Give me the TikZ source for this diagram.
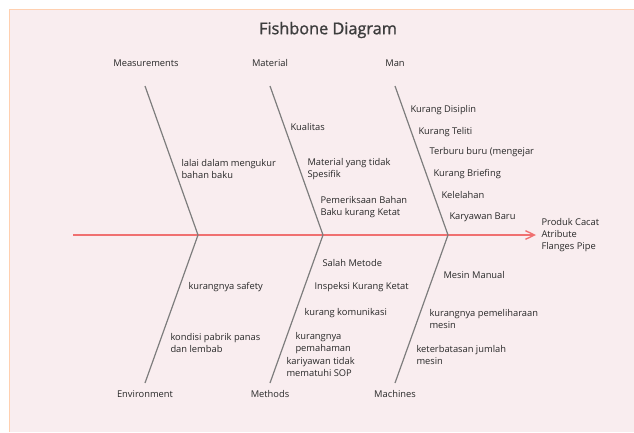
\documentclass[tikz,border=0pt]{standalone}
\usepackage{fontspec}
\setmainfont{Open Sans}
\newfontfamily\titlefont[FakeBold=1.2]{Open Sans}
\usetikzlibrary{arrows.meta}
\definecolor{panelfill}{RGB}{249,237,239}
\definecolor{panelline}{RGB}{255,208,176}
\definecolor{spinered}{RGB}{240,112,112}
\definecolor{bonegray}{RGB}{125,125,125}
\definecolor{txtgray}{RGB}{40,40,40}
\tikzset{every picture/.style={line width=0.75pt}}
\tikzset{
  cause/.style={anchor=west,inner sep=0.75pt,align=left,text=txtgray,
    font=\fontsize{7}{8.6}\selectfont},
  category/.style={inner sep=0.75pt,text=txtgray,font=\fontsize{7}{8.6}\selectfont},
  bone/.style={draw=bonegray,line width=0.9pt},
  spine/.style={draw=spinered,line width=1.4pt,-{Straight Barb[length=6.75pt,width=6.5pt,line width=1pt]}}
}

\begin{document}
\begin{tikzpicture}[x=0.75pt,y=0.75pt,yscale=-1,xscale=1]
\useasboundingbox (0,0) rectangle (634,432);

%Shape: Panel
\fill[panelfill] (9,9) rectangle (634,432);
\draw[panelline] (9,432) -- (9,9) -- (634,9);

% Title Node
\node[text=txtgray!90,inner sep=0.75pt,font=\titlefont\fontsize{12.2}{15}\selectfont] (title) at (328,30) {Fishbone Diagram};

%Spine
\coordinate (tail) at (73,235);
\coordinate (head) at (536,235);
\draw[spine] (tail) -- (head);

%Joints and bone ends
\coordinate (jmeas) at (198,235);
\coordinate (jmat) at (323,235);
\coordinate (jman) at (448,235);
\coordinate (tmeas) at (145,86);
\coordinate (tmat) at (270,86);
\coordinate (tman) at (395,86);
\coordinate (benv) at (145,383);
\coordinate (bmeth) at (270,383);
\coordinate (bmach) at (395,383);

%Bones
\draw[bone] (tmeas) -- (jmeas) -- (benv);
\draw[bone] (tmat) -- (jmat) -- (bmeth);
\draw[bone] (tman) -- (jman) -- (bmach);

% Category Nodes
\node[category] (meas) at (146,63) {Measurements};
\node[category] (mat) at (270,63) {Material};
\node[category] (man) at (395,63) {Man};
\node[category] (env) at (145,394) {Environment};
\node[category] (meth) at (270,394) {Methods};
\node[category] (mach) at (395,394) {Machines};

% Effect Node
\node[cause,font=\fontsize{7}{9.2}\selectfont] (effect) at (540,235) {Produk Cacat\\Atribute\\Flanges Pipe};

% Measurements causes
\node[cause] (ms1) at (180,169) {lalai dalam mengukur\\bahan baku};

% Material causes
\node[cause] (mt1) at (289,127) {Kualitas};
\node[cause] (mt2) at (306,169) {Material yang tidak\\Spesifik};
\node[cause] (mt3) at (319,207) {Pemeriksaan Bahan\\Baku kurang Ketat};

% Man causes
\node[cause] (mn1) at (409,110) {Kurang Disiplin};
\node[cause] (mn2) at (417,132) {Kurang Teliti};
\node[cause] (mn3) at (428,152) {Terburu buru (mengejar};
\node[cause] (mn4) at (432,174) {Kurang Briefing};
\node[cause] (mn5) at (440,195) {Kelelahan};
\node[cause] (mn6) at (448,217) {Karyawan Baru};

% Environment causes
\node[cause] (en1) at (187,287) {kurangnya safety};
\node[cause] (en2) at (169,343) {kondisi pabrik panas\\dan lembab};

% Methods causes
\node[cause] (me1) at (321,263) {Salah Metode};
\node[cause] (me2) at (313,287) {Inspeksi Kurang Ketat};
\node[cause] (me3) at (303,313) {kurang komunikasi};
\node[cause] (me4) at (294,343) {kurangnya\\pemahaman};
\node[cause] (me5) at (285,367) {kariyawan tidak\\mematuhi SOP};

% Machines causes
\node[cause] (mc1) at (442,275) {Mesin Manual};
\node[cause] (mc2) at (428,319) {kurangnya pemeliharaan\\mesin};
\node[cause] (mc3) at (415,355) {keterbatasan jumlah\\mesin};

\end{tikzpicture}
\end{document}
